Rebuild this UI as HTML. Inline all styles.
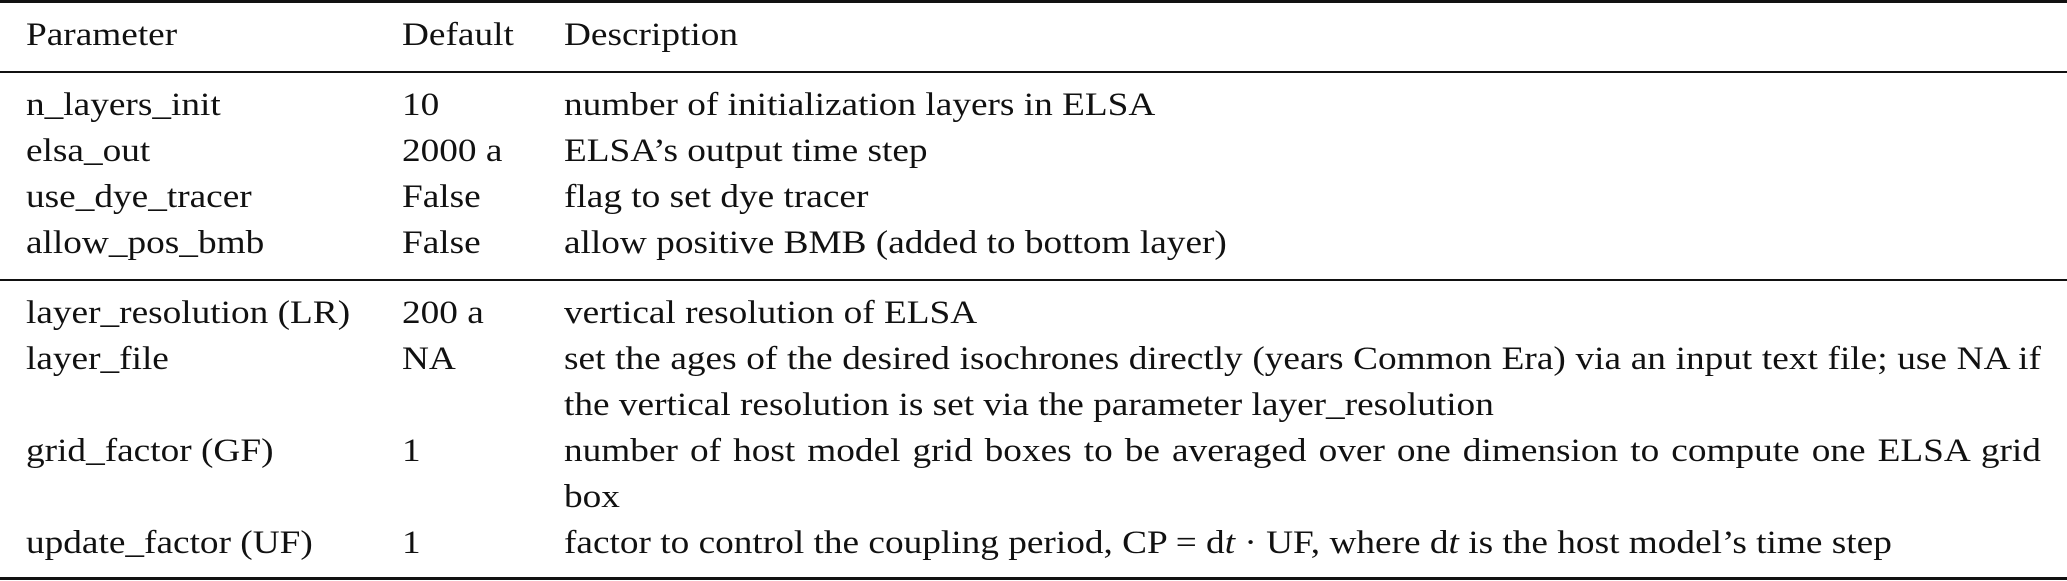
<!DOCTYPE html>
<html><head><meta charset="utf-8"><style>
body{margin:0;width:2067px;height:581px;background:#fff;position:relative;overflow:hidden;font-family:"Liberation Serif",serif;font-size:33px;color:#111;}
.r{position:absolute;left:0;width:2067px;background:#111;}
.row{position:absolute;left:0;width:2067px;line-height:46px;height:46px;}
.row span{position:absolute;white-space:nowrap;display:inline-block;transform:scaleX(1.13);transform-origin:0 0}
.c1{left:26px}
.c2{left:402px}
.c3{left:564px}
.j{position:absolute;left:564px;width:1307px;text-align:justify;text-align-last:left;line-height:46px;transform:scaleX(1.13);transform-origin:0 0}
</style></head><body>
<div class="r" style="top:0;height:3px"></div>
<div class="r" style="top:71px;height:2px"></div>
<div class="r" style="top:279px;height:2px"></div>
<div class="r" style="top:577px;height:3px"></div>

<div class="row" style="top:12px"><span class="c1">Parameter</span><span class="c2">Default</span><span class="c3">Description</span></div>

<div class="row" style="top:82px"><span class="c1">n_layers_init</span><span class="c2">10</span><span class="c3">number of initialization layers in ELSA</span></div>
<div class="row" style="top:128px"><span class="c1">elsa_out</span><span class="c2">2000 a</span><span class="c3">ELSA’s output time step</span></div>
<div class="row" style="top:174px"><span class="c1">use_dye_tracer</span><span class="c2">False</span><span class="c3">flag to set dye tracer</span></div>
<div class="row" style="top:220px"><span class="c1">allow_pos_bmb</span><span class="c2">False</span><span class="c3">allow positive BMB (added to bottom layer)</span></div>

<div class="row" style="top:290px"><span class="c1">layer_resolution (LR)</span><span class="c2">200 a</span><span class="c3">vertical resolution of ELSA</span></div>
<div class="row" style="top:336px"><span class="c1">layer_file</span><span class="c2">NA</span></div>
<div class="j" style="top:336px">set the ages of the desired isochrones directly (years Common Era) via an input text file; use NA if the vertical resolution is set via the parameter layer_resolution</div>
<div class="row" style="top:428px"><span class="c1">grid_factor (GF)</span><span class="c2">1</span></div>
<div class="j" style="top:428px">number of host model grid boxes to be averaged over one dimension to compute one ELSA grid box</div>
<div class="row" style="top:520px"><span class="c1">update_factor (UF)</span><span class="c2">1</span><span class="c3">factor to control the coupling period, CP = d<i>t</i> · UF, where d<i>t</i> is the host model’s time step</span></div>
</body></html>
